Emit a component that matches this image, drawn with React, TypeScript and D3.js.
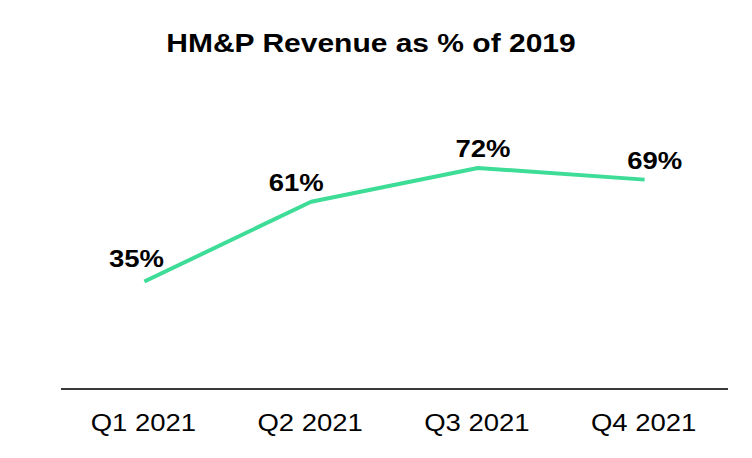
import React from "react";
import * as d3 from "d3";

const categories = ["Q1 2021", "Q2 2021", "Q3 2021", "Q4 2021"];
const values = [35, 61, 72, 68.2];
const valueLabels = ["35%", "61%", "72%", "69%"];
const title = "HM&P Revenue as % of 2019";

// label placement tweaks (style only)
const labelDx = [-8, -15, 5, 10];
const labelDy = [-15, -11, -11, -11];

const W = 752;
const H = 458;

export default function App() {
  const x = d3.scaleBand<string>().domain(categories).range([61, 728]);
  const y = d3.scaleLinear().domain([0, 80]).range([389, 143.4]);
  const cx = (c: string) => (x(c) as number) + x.bandwidth() / 2;
  const pts = categories.map((c, i) => [cx(c), y(values[i])] as [number, number]);
  const line = d3.line();
  const font = "Arial, 'Liberation Sans', Helvetica, sans-serif";

  return (
    <svg
      width={W}
      height={H}
      style={{ position: "absolute", left: 0, top: 0, background: "#fff" }}
      fontFamily={font}
    >
      <rect width={W} height={H} fill="#fff" />
      <text
        transform={`translate(371,52.3) scale(1,0.84)`}
        textAnchor="middle"
        fontSize={30}
        fontWeight="bold"
        fill="#000"
      >
        {title}
      </text>
      <path d={line(pts) || ""} fill="none" stroke="#3ddc97" strokeWidth={4} strokeLinejoin="round" />
      {pts.map((p, i) => (
        <text
          key={i}
          transform={`translate(${p[0] + labelDx[i]},${p[1] + labelDy[i]}) scale(1,0.86)`}
          textAnchor="middle"
          fontSize={27.5}
          fontWeight="bold"
          fill="#000"
        >
          {valueLabels[i]}
        </text>
      ))}
      <line x1={61} x2={728} y1={y(0)} y2={y(0)} stroke="#3a3a3a" strokeWidth={2} />
      {categories.map((c) => (
        <text
          key={c}
          transform={`translate(${cx(c) - 1},430.5) scale(1,0.9)`}
          textAnchor="middle"
          fontSize={27.5}
          fill="#000"
        >
          {c}
        </text>
      ))}
    </svg>
  );
}
